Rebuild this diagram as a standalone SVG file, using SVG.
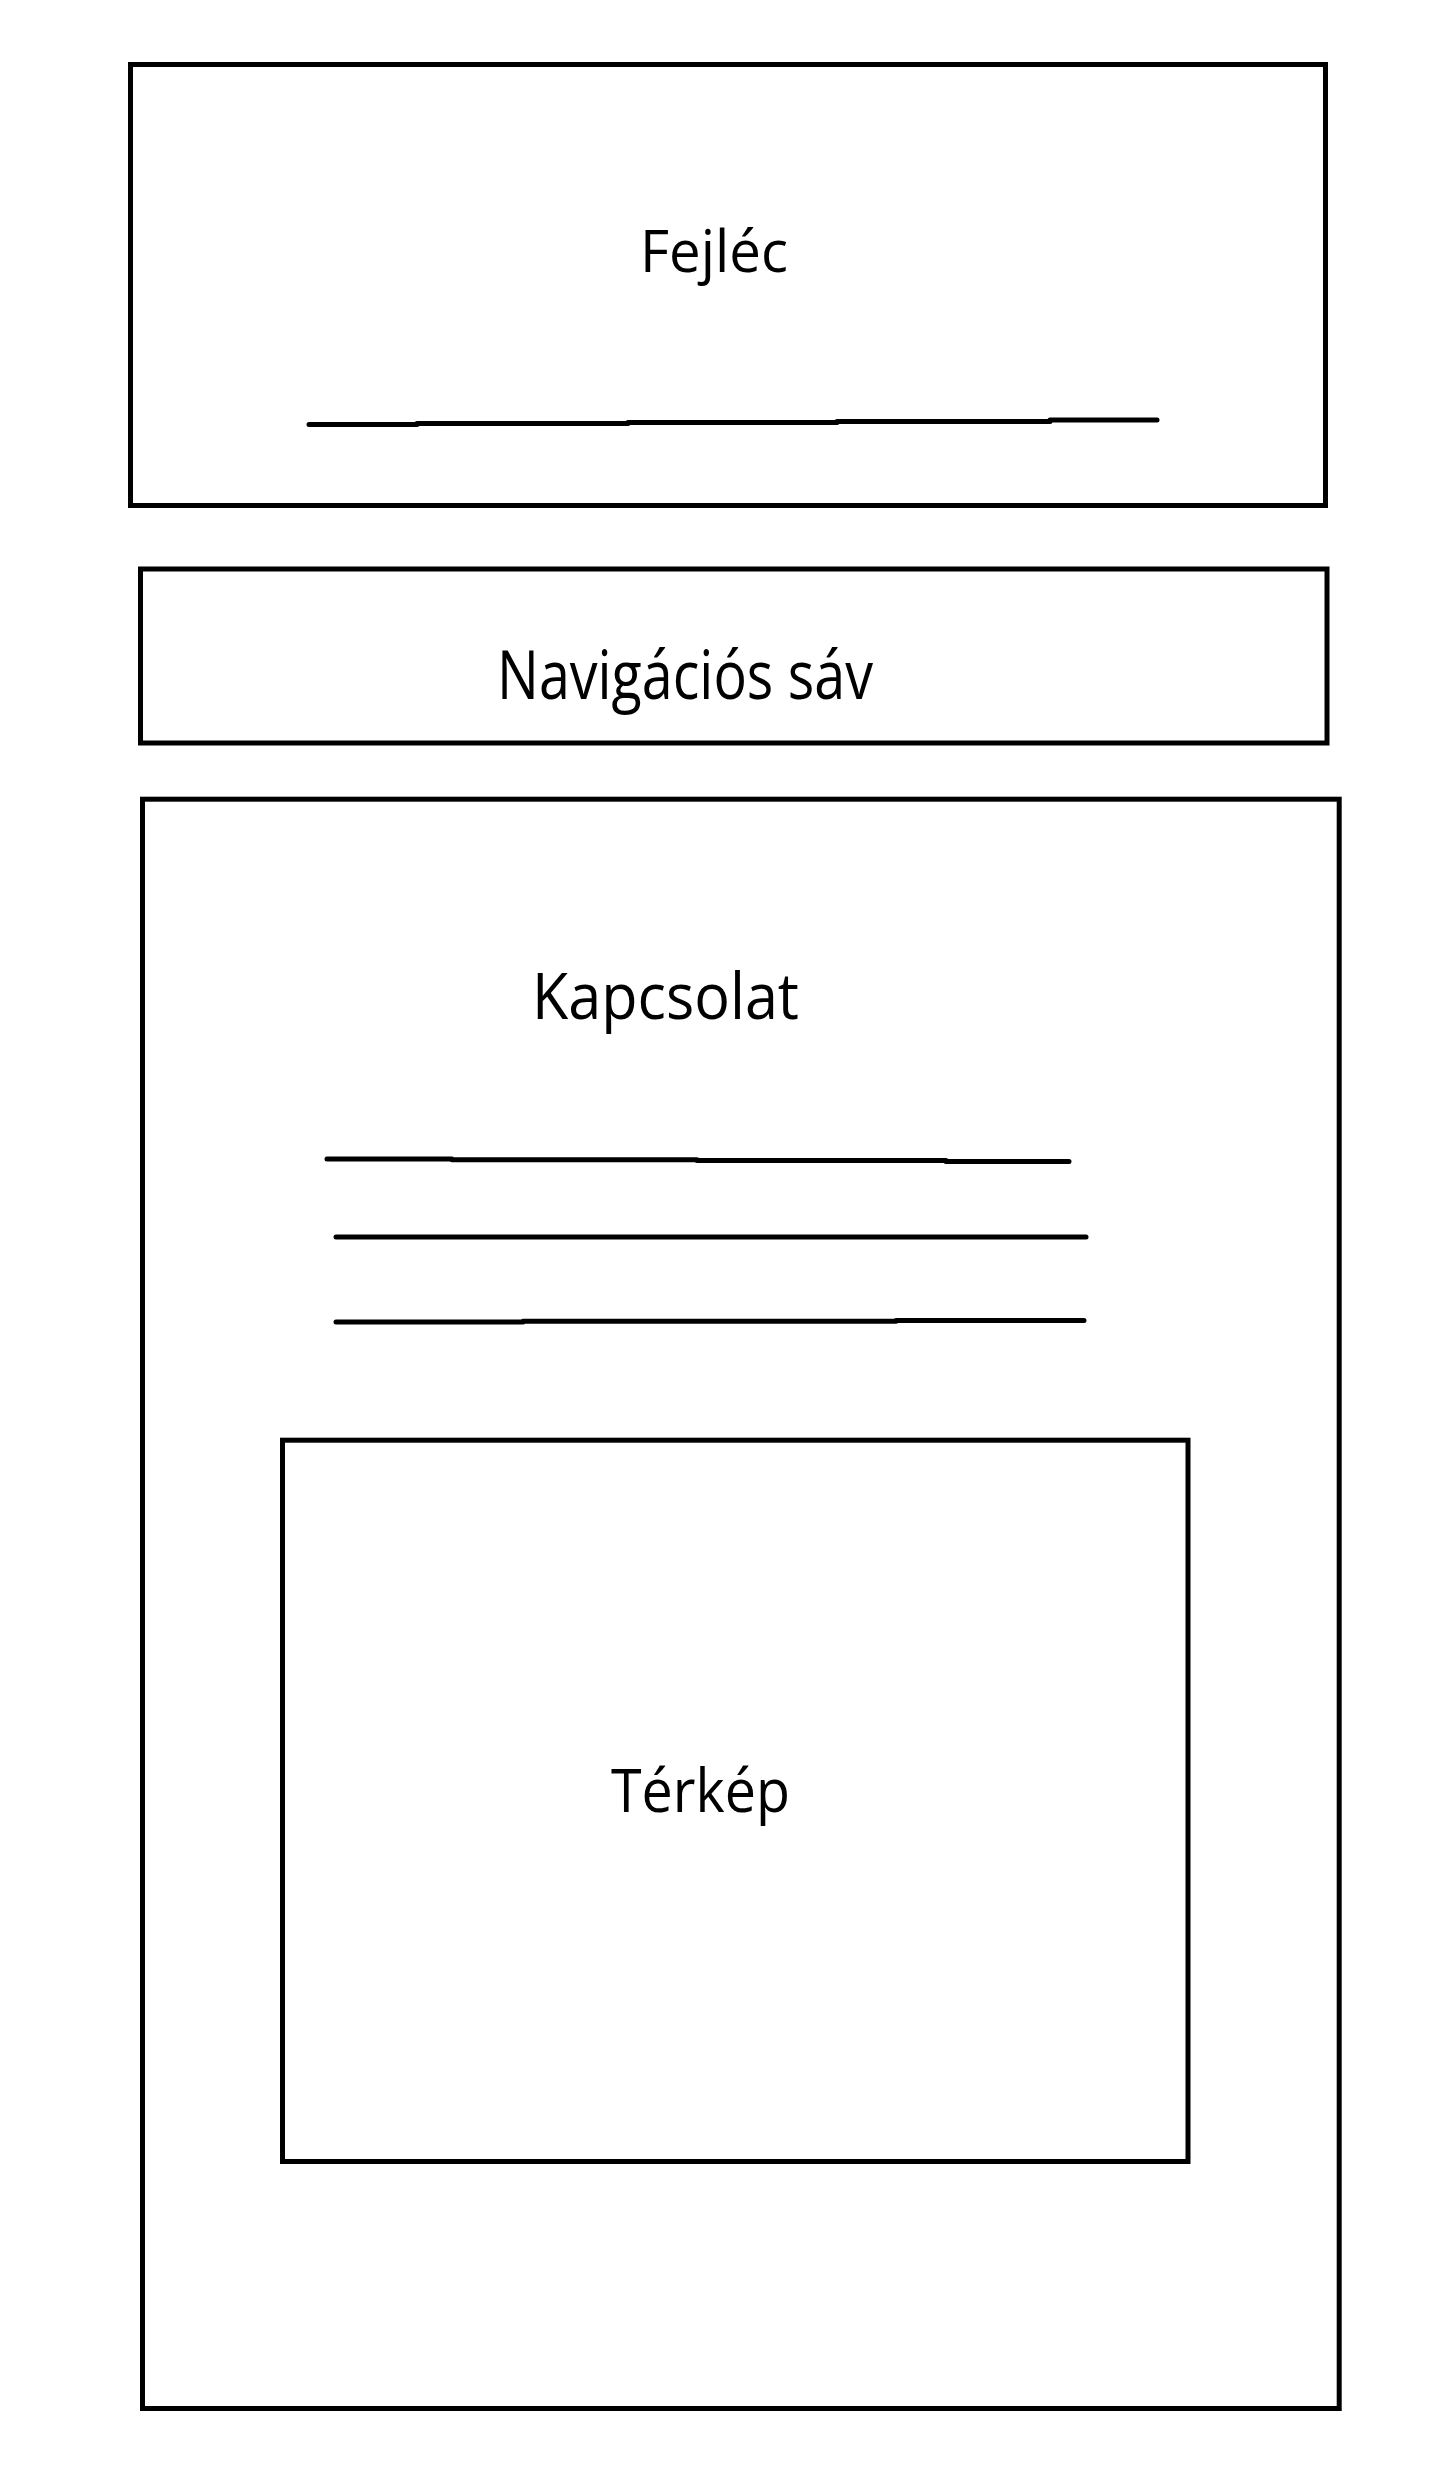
<svg xmlns="http://www.w3.org/2000/svg" width="1440" height="2477" viewBox="0 0 1440 2477">
  <style>
    .box { fill: none; stroke: #000; stroke-width: 5; }
    .rule { fill: none; stroke: #000; stroke-width: 5; stroke-linecap: round; }
    .label { font-family: "Open Sans", "Noto Sans", "Liberation Sans", sans-serif; fill: #000; }
  </style>
  <rect width="1440" height="2477" fill="#fff"/>

  <!-- Header block -->
  <g id="fejlec">
    <rect class="box" x="130.5" y="64.5" width="1195" height="441"/>
    <text class="label" x="640" y="272" font-size="59" textLength="148" lengthAdjust="spacingAndGlyphs">Fejléc</text>
    <!-- hand-drawn rule: short horizontal strokes with small steps -->
    <path class="rule" d="M309 424.5 H417 M417 423.5 H628 M628 422.5 H837 M837 421.5 H1050 M1050 420 H1157"/>
  </g>

  <!-- Navigation bar -->
  <g id="navigacio">
    <rect class="box" x="140.5" y="569" width="1186.5" height="174"/>
    <text class="label" x="497" y="699" font-size="67" textLength="376" lengthAdjust="spacingAndGlyphs">Navigációs sáv</text>
  </g>

  <!-- Contact section -->
  <g id="kapcsolat">
    <rect class="box" x="142.5" y="799.2" width="1196.7" height="1609.3"/>
    <text class="label" x="532" y="1019" font-size="64" textLength="267" lengthAdjust="spacingAndGlyphs">Kapcsolat</text>
    <path class="rule" d="M327 1159 H452 M452 1159.7 H697 M697 1160.4 H946 M946 1161.5 H1069"/>
    <path class="rule" d="M336 1237 H1086"/>
    <path class="rule" d="M336 1322 H523 M523 1321.2 H896 M896 1320.4 H1084"/>
  </g>

  <!-- Map area inside the contact section -->
  <g id="terkep">
    <rect class="box" x="282.5" y="1440.2" width="905.5" height="721.3"/>
    <text class="label" x="611" y="1812" font-size="61" textLength="179" lengthAdjust="spacingAndGlyphs">Térkép</text>
  </g>
</svg>
